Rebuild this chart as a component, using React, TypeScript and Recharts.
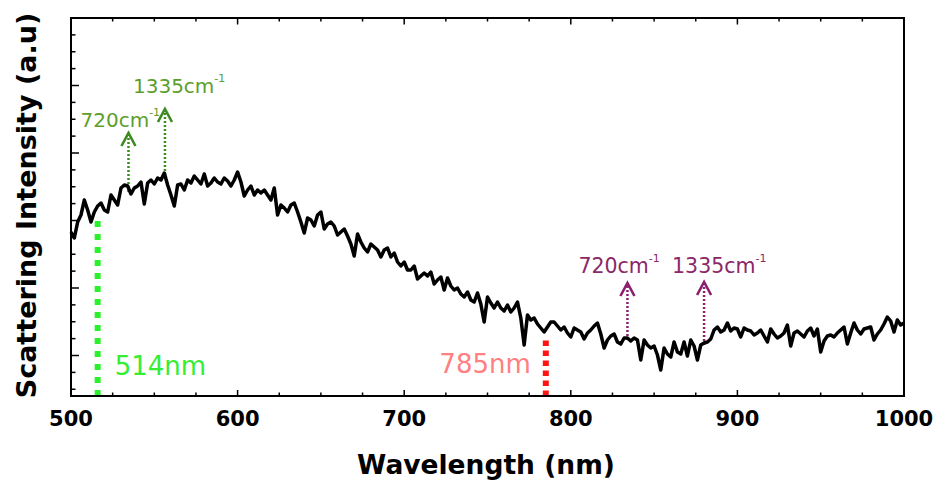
import React from 'react';
import { LineChart, Line, XAxis, YAxis, ReferenceLine, ReferenceDot } from 'recharts';

// ---- data (wavelength in nm, intensity in arbitrary units) ----
const wavelengths = [
  500, 502, 504, 506, 508, 510, 512, 514, 516, 518, 520, 522, 524, 526, 528, 530, 532, 534, 536, 538, 540, 542, 544, 546, 548,
  550, 552, 554, 556, 558, 560, 562, 564, 566, 568, 570, 572, 574, 576, 578, 580, 582, 584, 586, 588, 590, 592, 594, 596, 598,
  600, 602, 604, 606, 608, 610, 612, 614, 616, 618, 620, 622, 624, 626, 628, 630, 632, 634, 636, 638, 640, 642, 644, 646, 648,
  650, 652, 654, 656, 658, 660, 662, 664, 666, 668, 670, 672, 674, 676, 678, 680, 682, 684, 686, 688, 690, 692, 694, 696, 698,
  700, 702, 704, 706, 708, 710, 712, 714, 716, 718, 720, 722, 724, 726, 728, 730, 732, 734, 736, 738, 740, 742, 744, 746, 748,
  750, 752, 754, 756, 758, 760, 762, 764, 766, 768, 770, 772, 774, 776, 778, 780, 782, 784, 786, 788, 790, 792, 794, 796, 798,
  800, 802, 804, 806, 808, 810, 812, 814, 816, 818, 820, 822, 824, 826, 828, 830, 832, 834, 836, 838, 840, 842, 844, 846, 848,
  850, 852, 854, 856, 858, 860, 862, 864, 866, 868, 870, 872, 874, 876, 878, 880, 882, 884, 886, 888, 890, 892, 894, 896, 898,
  900, 902, 904, 906, 908, 910, 912, 914, 916, 918, 920, 922, 924, 926, 928, 930, 932, 934, 936, 938, 940, 942, 944, 946, 948,
  950, 952, 954, 956, 958, 960, 962, 964, 966, 968, 970, 972, 974, 976, 978, 980, 982, 984, 986, 988, 990, 992, 994, 996, 998, 1000,
];

const intensity = [
  164, 158, 174, 181, 196, 186, 174, 184, 190, 193, 186, 184, 201, 196, 191, 208, 211, 210, 202, 208, 210, 214, 192, 213, 216,
  212, 218, 216, 223, 211, 201, 190, 211, 212, 206, 216, 213, 220, 216, 212, 222, 210, 213, 218, 214, 212, 218, 215, 210, 216,
  224, 214, 200, 206, 210, 201, 206, 203, 206, 201, 196, 208, 181, 191, 188, 184, 191, 193, 184, 174, 163, 178, 176, 170, 181,
  184, 167, 172, 174, 170, 161, 164, 167, 160, 152, 140, 162, 154, 148, 144, 152, 149, 146, 139, 146, 148, 139, 143, 134, 130,
  134, 126, 126, 130, 117, 120, 123, 120, 124, 112, 116, 119, 106, 118, 110, 106, 108, 102, 99, 104, 96, 94, 103, 92, 74,
  99, 93, 88, 94, 88, 85, 91, 84, 88, 94, 78, 51, 81, 76, 78, 72, 68, 64, 69, 74, 74, 70, 66, 69, 63,
  59, 68, 66, 64, 57, 63, 66, 70, 73, 62, 48, 56, 60, 62, 54, 52, 58, 58, 55, 58, 56, 36, 56, 51, 48,
  50, 41, 26, 48, 42, 39, 54, 44, 42, 54, 40, 56, 50, 36, 51, 53, 54, 57, 66, 69, 64, 66, 73, 65, 68,
  67, 59, 68, 66, 65, 61, 63, 66, 60, 54, 67, 62, 58, 60, 63, 71, 50, 63, 65, 62, 59, 65, 68, 60, 67,
  44, 55, 60, 61, 59, 63, 66, 69, 52, 63, 73, 66, 62, 67, 68, 69, 56, 62, 66, 72, 79, 75, 64, 76, 71, 73,
];

const xDomain = [500, 1000];
const yDomain = [0, 378];
const xTicks = [500, 525, 550, 575, 600, 625, 650, 675, 700, 725, 750, 775, 800, 825, 850, 875, 900, 925, 950, 975, 1000];
const xMajorTicks = [500, 600, 700, 800, 900, 1000];
const yMajorTicks = [40.5, 108, 175.5, 243, 310.5, 378];
const yTicks = [
  6.75, 23.625, 40.5, 57.375, 74.25, 91.125, 108, 124.875, 141.75, 158.625, 175.5, 192.375, 209.25, 226.125, 243,
  259.875, 276.75, 293.625, 310.5, 327.375, 344.25, 361.125, 378,
];

// excitation laser lines
const laserNames = ['514nm', '785nm'];
const laserWl = [516, 785];
const laserTop = [176, 56];

// Raman shift arrows
const ramanLabels = ['720', '1335', '720', '1335'];
const ramanWl = [534.5, 556.4, 834, 880];
const ramanBase = [204, 221, 56, 51];
const ramanTip = [263, 287, 113, 114];

const data = wavelengths.map((wl, i) => ({ wl, v: intensity[i] }));

// ---- styles ----
const FONT = 'DejaVu Sans';
const laserStyle = [
  { line: '#2cf02c', text: '#33ee33', dash: '6 7', labelDx: 17, labelDy: -21, anchor: 'start' },
  { line: '#ff1414', text: '#ff8080', dash: '5.5 4.5', labelDx: -15, labelDy: -23, anchor: 'end' },
];
const arrowStyle = [
  { line: '#3c8a20', text: '#5c9e2c', dx: -48, dy: -6, size: 20 },
  { line: '#3c8a20', text: '#5c9e2c', dx: -32, dy: -16, size: 20 },
  { line: '#8b1f6e', text: '#8a2868', dx: -49, dy: -10, size: 20.5 },
  { line: '#8b1f6e', text: '#8a2868', dx: -32, dy: -9, size: 20.5 },
];

const AXIS_LINE = { stroke: '#000', strokeWidth: 2, strokeLinecap: 'square' };

const BottomTick = (p: any) => {
  const v = p.payload.value;
  const major = xMajorTicks.includes(v);
  return (
    <g>
      <line x1={p.x} x2={p.x} y1={p.y} y2={p.y - (major ? 6 : 3.5)} stroke="#000" strokeWidth={1.5} />
      {major && (
        <text x={p.x} y={p.y + 30} textAnchor="middle" fontFamily={FONT} fontWeight="bold" fontSize={21} fill="#000">
          {v}
        </text>
      )}
    </g>
  );
};

const TopTick = (p: any) => {
  const major = xMajorTicks.includes(p.payload.value);
  return <line x1={p.x} x2={p.x} y1={p.y} y2={p.y + (major ? 6.5 : 3.5)} stroke="#000" strokeWidth={1.5} />;
};

const LeftTick = (p: any) => {
  const major = yMajorTicks.includes(p.payload.value);
  return <line x1={p.x} x2={p.x + (major ? 8 : 4.5)} y1={p.y} y2={p.y} stroke="#000" strokeWidth={1.5} />;
};

const RightTick = (p: any) => {
  const major = yMajorTicks.includes(p.payload.value);
  return <line x1={p.x} x2={p.x - (major ? 8 : 4.5)} y1={p.y} y2={p.y} stroke="#000" strokeWidth={1.5} />;
};

const makeLaserLabel = (i: number) => (p: any) => {
  const s = laserStyle[i];
  return (
    <text
      x={p.cx + s.labelDx}
      y={p.cy + s.labelDy}
      textAnchor={s.anchor}
      fontFamily={FONT}
      fontSize={26}
      fill={s.text}
    >
      {laserNames[i]}
    </text>
  );
};

const makeArrowHead = (i: number) => (p: any) => {
  const s = arrowStyle[i];
  const { cx, cy } = p;
  return (
    <g>
      <polyline
        points={`${cx - 7},${cy + 13} ${cx},${cy} ${cx + 7},${cy + 13}`}
        fill="none"
        stroke={s.line}
        strokeWidth={2.6}
      />
      <text x={cx + s.dx} y={cy + s.dy} fontFamily={FONT} fontSize={s.size} fill={s.text}>
        {ramanLabels[i]}cm
        <tspan fontSize={11} dy={-11}>
          -1
        </tspan>
      </text>
    </g>
  );
};

export default function App() {
  return (
    <div style={{ position: 'absolute', left: 0, top: 0, width: 937, height: 482, background: '#fff' }}>
      <LineChart width={937} height={482} data={data} margin={{ top: 17, right: 32, bottom: 85, left: 70 }}>
        <XAxis
          dataKey="wl"
          type="number"
          domain={xDomain}
          ticks={xTicks}
          interval={0}
          height={1}
          tickSize={0}
          tickMargin={0}
          tickLine={false}
          axisLine={AXIS_LINE}
          tick={BottomTick}
        />
        <XAxis
          xAxisId="top"
          orientation="top"
          dataKey="wl"
          type="number"
          domain={xDomain}
          ticks={xTicks}
          interval={0}
          height={1}
          tickSize={0}
          tickMargin={0}
          tickLine={false}
          axisLine={AXIS_LINE}
          tick={TopTick}
        />
        <YAxis
          type="number"
          domain={yDomain}
          ticks={yTicks}
          interval={0}
          width={1}
          tickSize={0}
          tickMargin={0}
          tickLine={false}
          axisLine={AXIS_LINE}
          tick={LeftTick}
        />
        <YAxis
          yAxisId="right"
          orientation="right"
          type="number"
          domain={yDomain}
          ticks={yTicks}
          interval={0}
          width={1}
          tickSize={0}
          tickMargin={0}
          tickLine={false}
          axisLine={AXIS_LINE}
          tick={RightTick}
        />
        {laserWl.map((wl, i) => (
          <ReferenceLine
            key={'laser' + i}
            segment={[
              { x: wl, y: 0 },
              { x: wl, y: laserTop[i] },
            ]}
            stroke={laserStyle[i].line}
            strokeWidth={6}
            strokeDasharray={laserStyle[i].dash}
          />
        ))}
        {ramanWl.map((wl, i) => (
          <ReferenceLine
            key={'raman' + i}
            segment={[
              { x: wl, y: ramanBase[i] },
              { x: wl, y: ramanTip[i] - 2 },
            ]}
            stroke={arrowStyle[i].line}
            strokeWidth={2.5}
            strokeDasharray="2 2"
          />
        ))}
        <Line
          dataKey="v"
          type="linear"
          stroke="#000"
          strokeWidth={3.5}
          strokeLinejoin="round"
          dot={false}
          isAnimationActive={false}
        />
        {ramanWl.map((wl, i) => (
          <ReferenceDot key={'head' + i} x={wl} y={ramanTip[i]} r={0} shape={makeArrowHead(i)} />
        ))}
        {laserWl.map((wl, i) => (
          <ReferenceDot key={'lbl' + i} x={wl} y={0} r={0} shape={makeLaserLabel(i)} />
        ))}
      </LineChart>
      <svg width={937} height={482} style={{ position: 'absolute', left: 0, top: 0, pointerEvents: 'none' }}>
        <text x={486} y={474} textAnchor="middle" fontFamily={FONT} fontWeight="bold" fontSize={26.5} fill="#000">
          Wavelength (nm)
        </text>
        <text
          transform="translate(36,205.5) rotate(-90)"
          x={0}
          y={0}
          textAnchor="middle"
          fontFamily={FONT}
          fontWeight="bold"
          fontSize={27}
          fill="#000"
        >
          Scattering Intensity (a.u)
        </text>
      </svg>
    </div>
  );
}
